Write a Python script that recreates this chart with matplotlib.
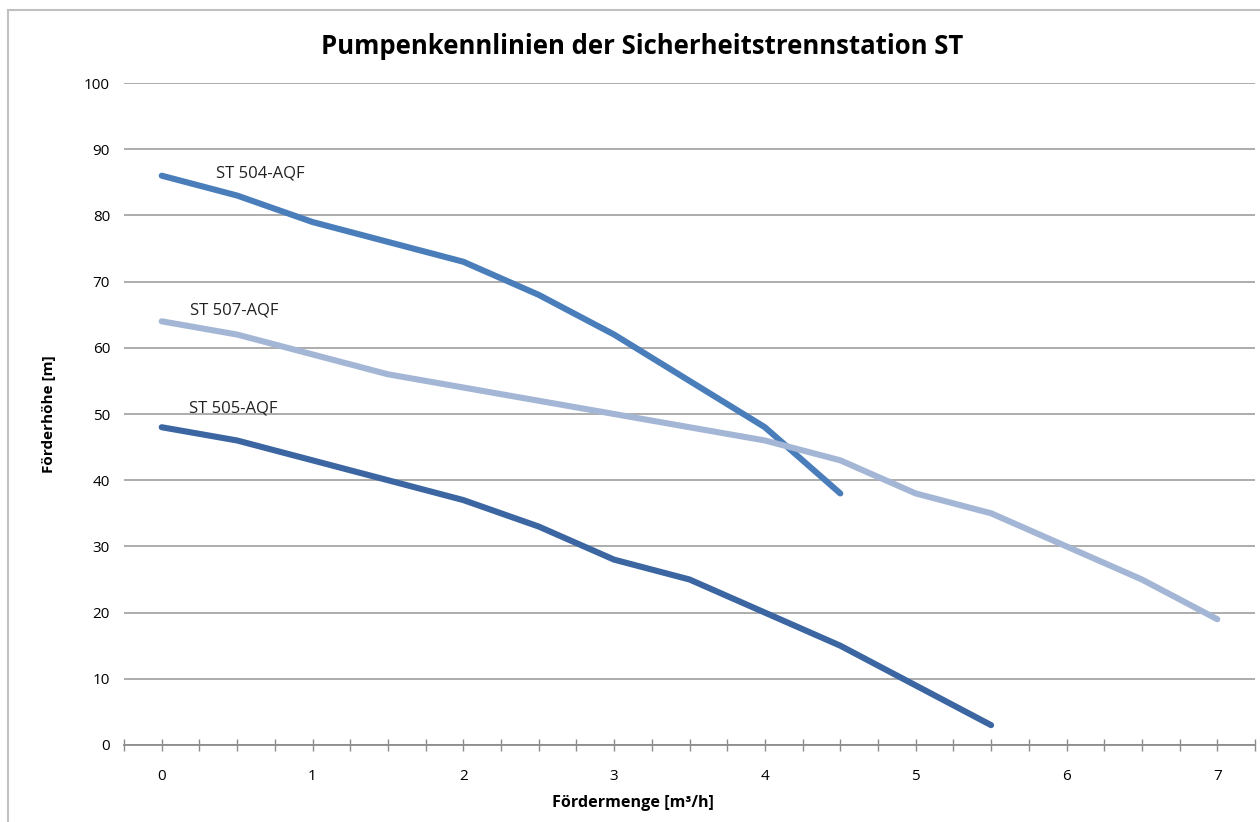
import numpy as np
import matplotlib.pyplot as plt
from matplotlib.patches import Rectangle

plt.rcParams['font.family'] = ['Open Sans', 'DejaVu Sans']

# Fördermenge [m3/h]
x_504 = [0, 0.5, 1, 1.5, 2, 2.5, 3, 3.5, 4, 4.5]
x_507 = [0, 0.5, 1, 1.5, 2, 2.5, 3, 3.5, 4, 4.5, 5, 5.5, 6, 6.5, 7]
x_505 = [0, 0.5, 1, 1.5, 2, 2.5, 3, 3.5, 4, 4.5, 5, 5.5]

# Förderhöhe [m]
h_504 = [86, 83, 79, 76, 73, 68, 62, 55, 48, 38]
h_507 = [64, 62, 59, 56, 54, 52, 50, 48, 46, 43, 38, 35, 30, 25, 19]
h_505 = [48, 46, 43, 40, 37, 33, 28, 25, 20, 15, 9, 3]

series_names = ['ST 504-AQF', 'ST 507-AQF', 'ST 505-AQF']
label_pos = [(0.36, 86.3), (0.19, 65.6), (0.18, 50.9)]

fig = plt.figure(figsize=(12.6, 8.22), dpi=100)
ax = fig.add_axes([124 / 1260, 1 - 745 / 822, (1255 - 124) / 1260, (745 - 83) / 822])

# outer chart border (only top/left visible in the reference)
fig.patches.append(Rectangle((8 / 1260, -0.1), 1.2, 1 - 10 / 822 + 0.1,
                             transform=fig.transFigure, fill=False,
                             edgecolor='#c0c0c0', linewidth=1.5))

ax.plot(x_504, h_504, color='#4a7ebb', lw=4.4, solid_capstyle='round', solid_joinstyle='round')
ax.plot(x_507, h_507, color='#a4b6d5', lw=4.4, solid_capstyle='round', solid_joinstyle='round')
ax.plot(x_505, h_505, color='#3c66a2', lw=4.4, solid_capstyle='round', solid_joinstyle='round')

for name, (lx, ly) in zip(series_names, label_pos):
    ax.text(lx, ly, name, fontsize=12, va='center', ha='left', color='#222222')

ax.set_xlim(-0.25, 7.25)
ax.set_ylim(0, 100)
ax.set_yticks(np.arange(0, 101, 10))
ax.set_xticks(np.arange(0, 8, 1))
ax.set_xticks(np.arange(-0.25, 7.26, 0.25), minor=True)

ax.grid(axis='y', color='#a6a6a6', lw=1.3)
ax.set_axisbelow(True)
for s in ['top', 'right', 'left']:
    ax.spines[s].set_visible(False)
ax.spines['bottom'].set_color('#8c8c8c')
ax.spines['bottom'].set_linewidth(1.3)

ax.tick_params(axis='y', length=0, pad=10, labelsize=11)
ax.tick_params(axis='x', which='both', direction='inout', length=8, width=1, color='#8c8c8c')
ax.tick_params(axis='x', which='major', pad=13, labelsize=11)

ax.set_ylabel('Förderhöhe [m]', fontsize=11, fontweight='bold', labelpad=20)
fig.text(633 / 1260, 1 - 803 / 822, 'Fördermenge [m³/h]', ha='center', va='center',
         fontsize=11.6, fontweight='bold')

fig.text(642 / 1260, 1 - 47 / 822, 'Pumpenkennlinien der Sicherheitstrennstation ST',
         ha='center', va='center', fontsize=18.5, fontweight='bold')

fig.savefig('out.png', dpi=100)
